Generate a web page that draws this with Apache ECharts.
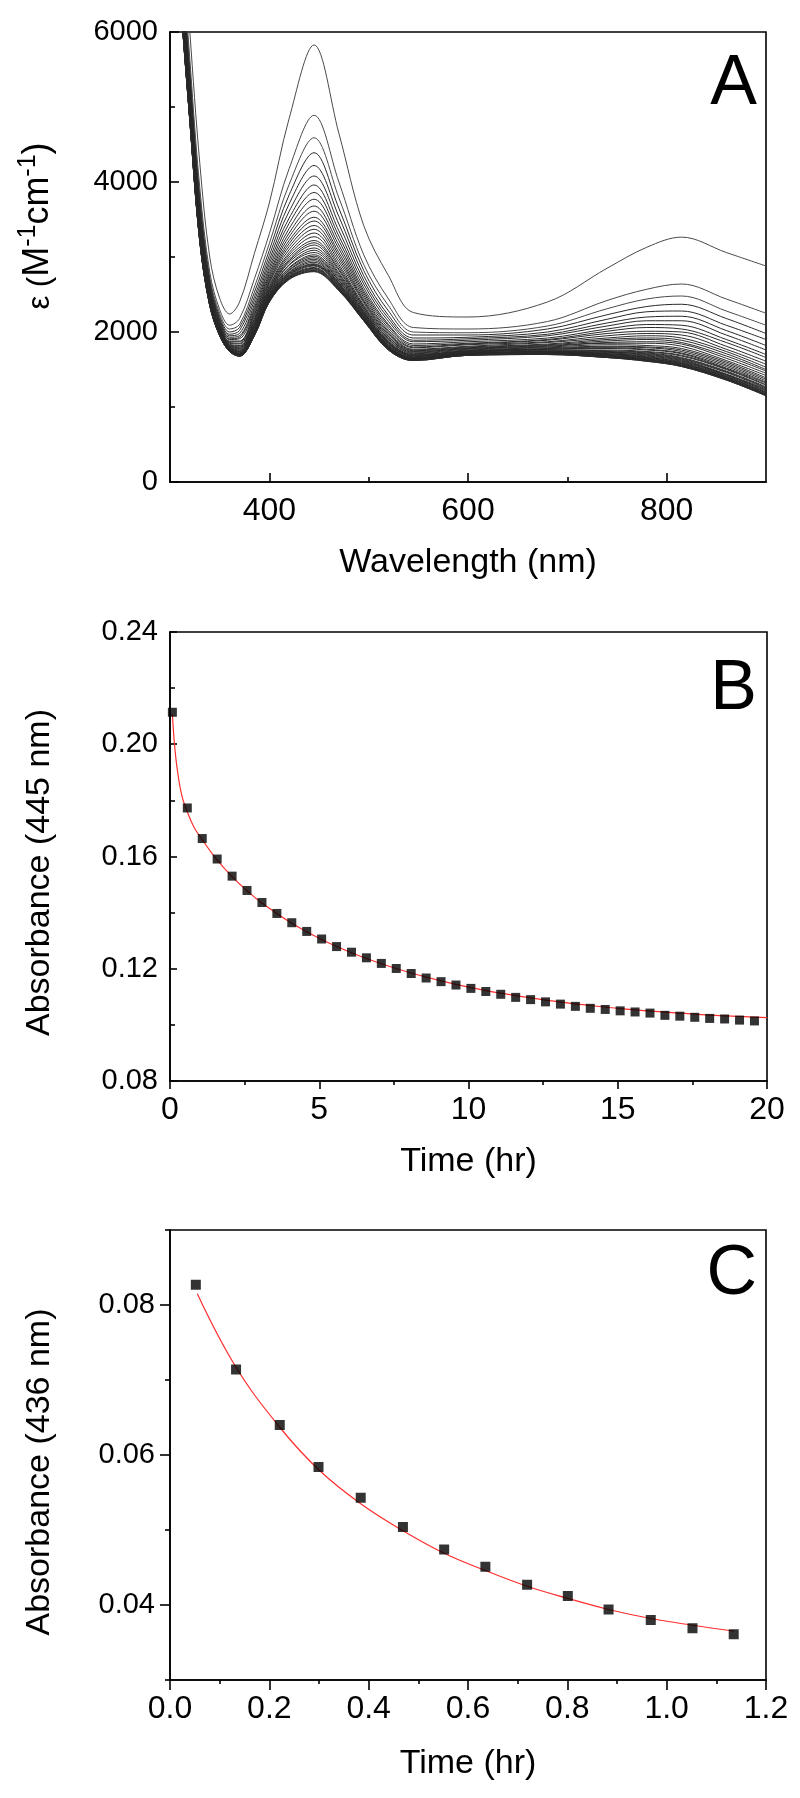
<!DOCTYPE html>
<html>
<head>
<meta charset="utf-8">
<script src="https://cdn.jsdelivr.net/npm/echarts@6/dist/echarts.min.js"></script>
<style>
html,body{margin:0;padding:0;background:#fff;}
#chart{width:800px;height:1798px;}
</style>
</head>
<body>
<div id="chart"></div>
<script>
// ---------- Panel A: spectra (epsilon vs wavelength) ----------
const wavelengthNm = [300,310,320,330,340,350,360,370,385,400,420,445,470,495,520,545,600,680,740,780,815,860,900];
const spec00 = [11000,8000,6000,4250,3000,2450,2240,2400,3050,3720,4850,5827,4650,3420,2750,2260,2200,2400,2850,3130,3265,3060,2880];
const spec01 = [10540,7570,5630,3920,2800,2300,2090,2180,2710,3310,4180,4890,4000,3030,2440,2060,2040,2140,2420,2570,2640,2440,2250];
const spec02 = [10390,7430,5510,3820,2730,2250,2040,2100,2600,3180,3970,4590,3790,2900,2350,2000,1990,2080,2310,2440,2480,2280,2090];
const spec03 = [10290,7330,5430,3750,2690,2210,2000,2060,2530,3090,3830,4390,3650,2820,2280,1960,1960,2040,2230,2340,2370,2180,1980];
const spec04 = [10200,7260,5360,3690,2650,2180,1970,2020,2470,3020,3710,4220,3540,2750,2220,1920,1930,2000,2170,2270,2280,2090,1900];
const spec05 = [10130,7190,5310,3640,2620,2160,1950,1980,2420,2960,3610,4080,3440,2690,2180,1890,1910,1970,2120,2200,2210,2020,1820];
const spec06 = [10070,7140,5260,3600,2600,2140,1930,1950,2370,2910,3520,3960,3350,2640,2140,1870,1890,1950,2080,2150,2150,1960,1760];
const spec07 = [10020,7090,5220,3570,2580,2120,1910,1930,2330,2860,3450,3860,3280,2590,2100,1840,1870,1920,2040,2100,2090,1900,1700];
const spec08 = [9980,7050,5180,3530,2560,2110,1900,1910,2300,2820,3380,3770,3220,2550,2080,1820,1850,1900,2010,2060,2040,1860,1660];
const spec09 = [9930,7000,5150,3500,2540,2090,1880,1880,2270,2780,3320,3680,3160,2520,2050,1800,1840,1890,1980,2010,2000,1810,1610];
const spec10 = [9900,6970,5120,3480,2520,2080,1870,1870,2240,2750,3270,3610,3110,2490,2020,1790,1830,1870,1950,1980,1960,1770,1570];
const spec11 = [9860,6940,5090,3450,2510,2070,1860,1850,2220,2720,3220,3530,3060,2460,2000,1770,1810,1860,1920,1950,1920,1740,1530];
const spec12 = [9830,6910,5070,3430,2490,2060,1850,1840,2190,2690,3180,3480,3020,2430,1980,1760,1800,1840,1900,1920,1890,1710,1500];
const spec13 = [9810,6890,5050,3410,2480,2050,1840,1820,2170,2670,3140,3420,2980,2410,1960,1750,1790,1830,1880,1900,1860,1680,1480];
const spec14 = [9780,6860,5020,3400,2470,2040,1830,1810,2150,2650,3100,3370,2940,2390,1940,1740,1780,1820,1860,1870,1840,1650,1450];
const spec15 = [9750,6840,5000,3380,2460,2030,1820,1800,2140,2620,3060,3320,2900,2360,1930,1730,1780,1810,1850,1850,1810,1620,1420];
const spec16 = [9730,6810,4980,3360,2450,2030,1820,1790,2120,2600,3030,3270,2870,2340,1910,1720,1770,1800,1830,1820,1780,1600,1390];
const spec17 = [9710,6790,4970,3350,2440,2020,1810,1780,2100,2580,3000,3220,2840,2330,1900,1710,1760,1790,1810,1800,1760,1580,1370];
const spec18 = [9690,6780,4950,3330,2430,2010,1800,1770,2090,2570,2970,3190,2820,2310,1880,1700,1750,1780,1800,1790,1740,1560,1350];
const spec19 = [9670,6760,4940,3320,2430,2010,1800,1760,2080,2550,2950,3160,2790,2300,1870,1690,1750,1770,1790,1770,1720,1540,1330];
const spec20 = [9660,6750,4930,3310,2420,2000,1790,1750,2070,2540,2930,3120,2770,2280,1860,1690,1740,1770,1780,1760,1710,1520,1320];
const spec21 = [9640,6730,4910,3300,2410,2000,1790,1740,2060,2530,2900,3090,2750,2270,1850,1680,1740,1760,1760,1740,1690,1510,1300];
const spec22 = [9630,6720,4900,3290,2410,1990,1780,1740,2050,2510,2890,3060,2730,2260,1850,1680,1730,1760,1750,1730,1680,1500,1290];
const spec23 = [9610,6710,4890,3280,2400,1990,1780,1730,2030,2500,2860,3030,2710,2250,1840,1670,1730,1750,1740,1720,1660,1480,1270];
const spec24 = [9600,6700,4880,3270,2390,1980,1770,1720,2020,2490,2850,3010,2690,2240,1830,1660,1720,1740,1730,1710,1650,1470,1260];
const spec25 = [9590,6690,4870,3260,2390,1980,1770,1720,2020,2480,2830,2990,2680,2230,1820,1660,1720,1740,1730,1700,1640,1460,1250];
const spec26 = [9580,6680,4860,3260,2380,1980,1770,1710,2010,2470,2820,2970,2660,2220,1810,1650,1720,1730,1720,1690,1630,1440,1240];
const spec27 = [9570,6670,4860,3250,2380,1970,1760,1710,2000,2460,2800,2950,2650,2210,1810,1650,1710,1730,1710,1680,1620,1430,1230];
const spec28 = [9560,6660,4850,3240,2380,1970,1760,1710,2000,2460,2790,2930,2640,2200,1800,1650,1710,1730,1710,1670,1610,1430,1220];
const spec29 = [9550,6650,4840,3240,2370,1970,1760,1700,1990,2450,2780,2910,2630,2200,1800,1640,1710,1720,1700,1660,1600,1420,1210];
const spec30 = [9550,6640,4840,3230,2370,1970,1760,1700,1990,2440,2770,2900,2620,2190,1790,1640,1710,1720,1700,1660,1590,1410,1200];
const spec31 = [9540,6640,4830,3230,2370,1960,1750,1700,1980,2440,2760,2890,2610,2180,1790,1640,1700,1720,1690,1650,1580,1400,1190];
const spec32 = [9540,6630,4830,3230,2370,1960,1750,1690,1980,2430,2750,2880,2600,2180,1780,1640,1700,1720,1690,1640,1580,1400,1190];
const spec33 = [9530,6630,4820,3220,2360,1960,1750,1690,1970,2430,2740,2860,2590,2170,1780,1630,1700,1710,1680,1640,1570,1390,1180];
const spec34 = [9520,6620,4820,3220,2360,1960,1750,1690,1970,2420,2730,2850,2580,2170,1770,1630,1700,1710,1680,1630,1560,1380,1170];
const spec35 = [9520,6620,4810,3210,2360,1960,1750,1680,1960,2420,2730,2840,2580,2170,1770,1630,1700,1710,1670,1630,1560,1380,1170];
const spec36 = [9510,6610,4810,3210,2360,1950,1740,1680,1960,2410,2720,2830,2570,2160,1770,1630,1690,1710,1670,1620,1550,1370,1160];
const spec37 = [9510,6610,4810,3200,2350,1950,1740,1680,1960,2410,2710,2820,2560,2160,1760,1620,1690,1700,1660,1620,1550,1370,1160];
const spec38 = [9500,6600,4800,3200,2350,1950,1740,1680,1950,2400,2710,2810,2560,2150,1760,1620,1690,1700,1660,1610,1540,1360,1150];
const spec39 = [9500,6600,4800,3200,2350,1950,1740,1675,1950,2400,2700,2804,2550,2150,1760,1620,1690,1700,1660,1610,1540,1360,1150];
const spectra = [spec00,spec01,spec02,spec03,spec04,spec05,spec06,spec07,spec08,spec09,
                 spec10,spec11,spec12,spec13,spec14,spec15,spec16,spec17,spec18,spec19,
                 spec20,spec21,spec22,spec23,spec24,spec25,spec26,spec27,spec28,spec29,
                 spec30,spec31,spec32,spec33,spec34,spec35,spec36,spec37,spec38,spec39];
const xATicksMajor = [400,600,800];
const xATicksMinor = [500,700];

// ---------- Panel B: absorbance at 445 nm vs time ----------
const timeB = [0.08,0.58,1.08,1.58,2.08,2.58,3.08,3.58,4.08,4.58,5.08,5.58,6.08,6.58,7.08,7.58,8.08,8.58,9.08,9.58,
               10.08,10.58,11.08,11.58,12.08,12.58,13.08,13.58,14.08,14.58,15.08,15.58,16.08,16.58,17.08,17.58,18.08,18.58,19.08,19.58];
const absB = [0.2114,0.1773,0.1664,0.1591,0.1530,0.1479,0.1436,0.1397,0.1364,0.1333,0.1306,0.1279,0.1259,0.1239,0.1219,0.1201,0.1183,0.1167,0.1154,0.1142,
              0.1130,0.1119,0.1109,0.1098,0.1090,0.1082,0.1074,0.1066,0.1059,0.1055,0.1050,0.1046,0.1042,0.1034,0.1031,0.1027,0.1023,0.1021,0.1017,0.1014];
const fitTimeB = [0.08,0.15,0.25,0.4,0.55,0.8,1.08,1.5,2.08,2.58,3.08,4.08,5.08,6.08,7.08,8.08,9.08,10.08,11.08,12.08,13.08,14.08,15.08,16.08,17.08,18.08,19.08,20];
const fitAbsB = [0.2108,0.2000,0.1905,0.1815,0.1768,0.1705,0.1660,0.1598,0.1528,0.1478,0.1434,0.1362,0.1304,0.1257,0.1218,0.1185,0.1157,0.1133,0.1113,0.1096,0.1081,0.1069,0.1058,0.1049,0.1042,0.1035,0.1030,0.1026];

// ---------- Panel C: absorbance at 436 nm vs time ----------
const timeC = [0.052,0.133,0.221,0.299,0.384,0.469,0.552,0.635,0.719,0.801,0.883,0.968,1.052,1.135];
const absC = [0.0827,0.0714,0.0640,0.0584,0.0543,0.0504,0.0474,0.0451,0.0427,0.0412,0.0394,0.0380,0.0369,0.0361];
const fitTimeC = [0.055,0.133,0.221,0.300,0.384,0.469,0.552,0.635,0.719,0.800,0.883,0.968,1.052,1.136];
const fitAbsC = [0.0815,0.0717,0.0637,0.0580,0.0535,0.0499,0.0469,0.0446,0.0425,0.0409,0.0394,0.0382,0.0373,0.0365];
const yCTicksMajor = [0.04,0.06,0.08];
const yCTicksMinor = [0.03,0.05,0.07,0.09];

// ---------- styling ----------
const FONT = "'Liberation Sans', Arial, Helvetica, sans-serif";
const INK = '#000';
const axisLine = {show:true, lineStyle:{color:INK, width:1.6}};
const tickStyle = {color:INK, width:1.6};
const xLabel = {color:INK, fontFamily:FONT, fontSize:32, margin:13};
const yLabel = {color:INK, fontFamily:FONT, fontSize:29, margin:12};
const titleStyle = {color:INK, fontFamily:FONT, fontSize:34};
const gridBase = {show:true, borderColor:INK, borderWidth:1.6, backgroundColor:'transparent'};

const pairs = (xs, ys) => xs.map((x, i) => [x, ys[i]]);

const series = [];
spectra.forEach((s, k) => {
  series.push({
    type:'line', xAxisIndex:0, yAxisIndex:0, data: pairs(wavelengthNm, s),
    smooth:0.35, showSymbol:false, silent:true, clip:true,
    lineStyle:{color: k < 3 ? '#4a4a4a' : '#2a2a2a', width:1}, z:2
  });
});
series.push({type:'line', xAxisIndex:2, yAxisIndex:1, data:pairs(fitTimeB, fitAbsB), smooth:0.4,
  showSymbol:false, silent:true, lineStyle:{color:'#ff2e2e', width:1.2}, z:2});
series.push({type:'scatter', xAxisIndex:2, yAxisIndex:1, data:pairs(timeB, absB), symbol:'rect',
  symbolSize:9, itemStyle:{color:'#000'}, silent:true, z:3});
series.push({type:'line', xAxisIndex:3, yAxisIndex:2, data:pairs(fitTimeC, fitAbsC), smooth:0.4,
  showSymbol:false, silent:true, lineStyle:{color:'#ff2e2e', width:1.2}, z:2});
series.push({type:'scatter', xAxisIndex:3, yAxisIndex:2, data:pairs(timeC, absC), symbol:'rect',
  symbolSize:10, itemStyle:{color:'#000'}, silent:true, z:3});

const epsRich = {
  e:{fontFamily:FONT, fontSize:31, fill:INK, color:INK, lineHeight:40, verticalAlign:'bottom'},
  a:{fontFamily:FONT, fontSize:36, fill:INK, color:INK, lineHeight:40, verticalAlign:'bottom'},
  s:{fontFamily:FONT, fontSize:25, fill:INK, color:INK, lineHeight:22, verticalAlign:'top'}
};

const option = {
  animation:false,
  backgroundColor:'#fff',
  grid:[
    Object.assign({left:170, top:32, width:596, height:450}, gridBase),
    Object.assign({left:170, top:632, width:597, height:449}, gridBase),
    Object.assign({left:170, top:1230, width:596, height:450}, gridBase)
  ],
  xAxis:[
    {gridIndex:0, type:'value', min:300, max:900, axisLine,
     axisTick:{show:true, inside:true, length:9, customValues:xATicksMajor, lineStyle:tickStyle},
     axisLabel:Object.assign({customValues:xATicksMajor}, xLabel),
     splitLine:{show:false},
     name:'Wavelength (nm)', nameLocation:'middle', nameGap:64, nameTextStyle:titleStyle},
    {gridIndex:0, type:'value', min:300, max:900, position:'bottom', axisLine:{show:false},
     axisTick:{show:true, inside:true, length:5, customValues:xATicksMinor, lineStyle:tickStyle},
     axisLabel:{show:false}, splitLine:{show:false}},
    {gridIndex:1, type:'value', min:0, max:20, interval:5, axisLine,
     axisTick:{show:true, inside:false, length:8, lineStyle:tickStyle},
     minorTick:{show:true, splitNumber:2, length:4, lineStyle:tickStyle},
     axisLabel:xLabel, splitLine:{show:false},
     name:'Time (hr)', nameLocation:'middle', nameGap:64, nameTextStyle:titleStyle},
    {gridIndex:2, type:'value', min:0, max:1.2, interval:0.2, axisLine,
     axisTick:{show:true, inside:false, length:10, lineStyle:tickStyle},
     minorTick:{show:true, splitNumber:2, length:4, lineStyle:tickStyle},
     axisLabel:Object.assign({formatter:v => v.toFixed(1)}, xLabel), splitLine:{show:false},
     name:'Time (hr)', nameLocation:'middle', nameGap:67, nameTextStyle:titleStyle}
  ],
  yAxis:[
    {gridIndex:0, type:'value', min:0, max:6000, interval:2000, axisLine,
     axisTick:{show:true, inside:true, length:9, lineStyle:tickStyle},
     minorTick:{show:true, splitNumber:2, length:5, lineStyle:tickStyle},
     axisLabel:Object.assign({formatter:v => String(v)}, yLabel), splitLine:{show:false}},
    {gridIndex:1, type:'value', min:0.08, max:0.24, interval:0.04, axisLine,
     axisTick:{show:true, inside:true, length:7, lineStyle:tickStyle},
     minorTick:{show:true, splitNumber:2, length:5, lineStyle:tickStyle},
     axisLabel:Object.assign({formatter:v => v.toFixed(2)}, yLabel), splitLine:{show:false},
     name:'Absorbance (445 nm)', nameLocation:'middle', nameGap:113,
     nameTextStyle:Object.assign({padding:[0,32,0,0]}, titleStyle)},
    {gridIndex:2, type:'value', min:0.03, max:0.09, axisLine,
     axisTick:{show:true, inside:false, length:10, customValues:yCTicksMajor, lineStyle:tickStyle},
     axisLabel:Object.assign({customValues:yCTicksMajor, formatter:v => v.toFixed(2)}, yLabel, {margin:15}),
     splitLine:{show:false},
     name:'Absorbance (436 nm)', nameLocation:'middle', nameGap:113,
     nameTextStyle:Object.assign({padding:[0,34,0,0]}, titleStyle)},
    {gridIndex:2, type:'value', min:0.03, max:0.09, position:'left', axisLine:{show:false},
     axisTick:{show:true, inside:false, length:5, customValues:yCTicksMinor, lineStyle:tickStyle},
     axisLabel:{show:false}, splitLine:{show:false}}
  ],
  graphic:[
    {type:'text', x:36, y:226, rotation:Math.PI/2,
     style:{text:'{e|ε (}{a|M}{s|-1}{a|cm}{s|-1}{a|)}', rich:epsRich, fill:INK, align:'center', verticalAlign:'middle'}},
    {type:'text', x:757, y:50, style:{text:'A', fontFamily:FONT, fontSize:70, fill:INK, align:'right', verticalAlign:'top'}},
    {type:'text', x:757, y:655, style:{text:'B', fontFamily:FONT, fontSize:70, fill:INK, align:'right', verticalAlign:'top'}},
    {type:'text', x:757, y:1240, style:{text:'C', fontFamily:FONT, fontSize:70, fill:INK, align:'right', verticalAlign:'top'}}
  ],
  series
};

const chart = echarts.init(document.getElementById('chart'), null, {renderer:'canvas'});
chart.setOption(option);
</script>
</body>
</html>
